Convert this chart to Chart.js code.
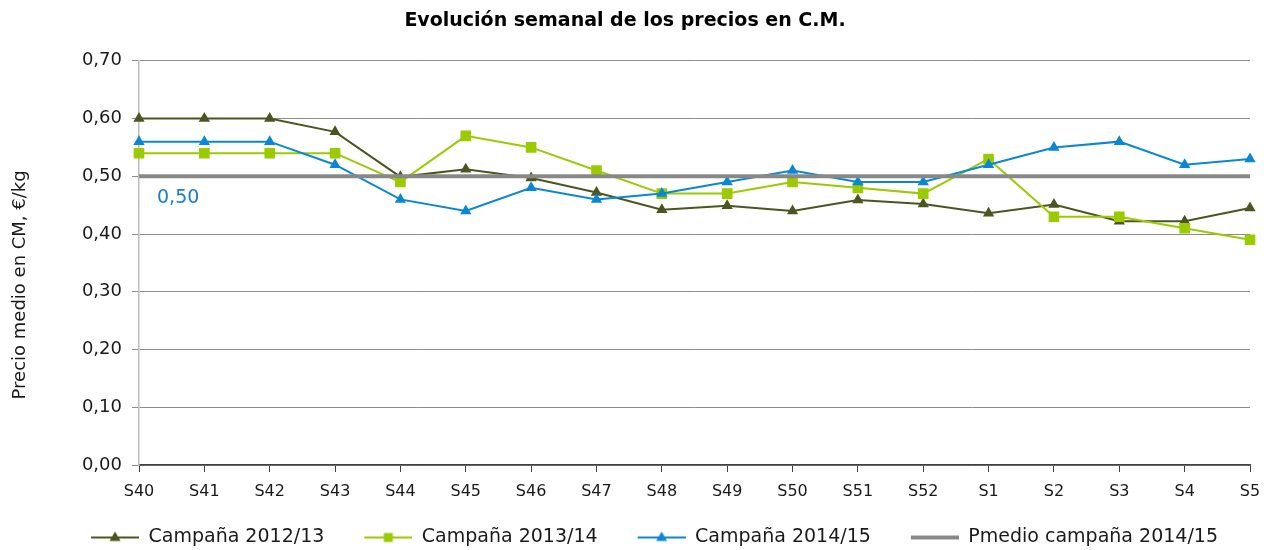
<!DOCTYPE html>
<html>
<head>
<meta charset="utf-8">
<script src="https://cdn.jsdelivr.net/npm/chart.js@4.4.1/dist/chart.umd.min.js"></script>
<style>
html,body{margin:0;padding:0;background:#fff;}
#wrap{width:1264px;height:550px;position:relative;}
</style>
</head>
<body>
<div id="wrap"><canvas id="c" width="1264" height="550"></canvas></div>
<script>
const categories = ['S40','S41','S42','S43','S44','S45','S46','S47','S48','S49','S50','S51','S52','S1','S2','S3','S4','S5'];
const campana1213 = [0.60,0.60,0.60,0.577,0.499,0.512,0.497,0.472,0.442,0.449,0.440,0.459,0.452,0.436,0.451,0.422,0.422,0.445];
const campana1314 = [0.54,0.54,0.54,0.54,0.49,0.57,0.55,0.51,0.47,0.47,0.49,0.48,0.47,0.53,0.43,0.43,0.41,0.39];
const campana1415 = [0.56,0.56,0.56,0.52,0.46,0.44,0.48,0.46,0.47,0.49,0.51,0.49,0.49,0.52,0.55,0.56,0.52,0.53];
const pmedio1415 = [0.50,0.50,0.50,0.50,0.50,0.50,0.50,0.50,0.50,0.50,0.50,0.50,0.50,0.50,0.50,0.50,0.50,0.50];
const seriesNames = ['Campaña 2012/13','Campaña 2013/14','Campaña 2014/15','Pmedio campaña 2014/15'];
const yTicks = [0,0.1,0.2,0.3,0.4,0.5,0.6,0.7];
const yTitle = 'Precio medio en CM, €/kg';
const meanLabel = '0,50';

const FONT = 'DejaVu Sans';
const C_OLIVE = '#4B5520';
const C_GREEN = '#9ACA00';
const C_BLUE = '#0A87D2';
const C_GRAY = '#888888';

const ICON_GAP = 19;
function legendIcon(color, style, lw) {
  const cv = document.createElement('canvas');
  cv.width = 48 + ICON_GAP; cv.height = 16;
  const g = cv.getContext('2d');
  const o = ICON_GAP;
  g.strokeStyle = color; g.lineWidth = lw;
  g.beginPath(); g.moveTo(o, 8); g.lineTo(o + 48, 8); g.stroke();
  g.fillStyle = color;
  if (style === 'triangle') {
    g.beginPath(); g.moveTo(o + 24, 2); g.lineTo(o + 29.5, 11.5); g.lineTo(o + 18.5, 11.5); g.closePath(); g.fill();
  } else if (style === 'rect') {
    g.fillRect(o + 19.5, 3.5, 9, 9);
  }
  return cv;
}

const icons = [
  legendIcon(C_OLIVE, 'triangle', 2),
  legendIcon(C_GREEN, 'rect', 2),
  legendIcon(C_BLUE, 'triangle', 2),
  legendIcon(C_GRAY, null, 4)
];

const textPlugin = {
  id: 'extraText',
  afterLayout(chart) {
    if (chart.legend) { chart.legend.left += 20; chart.legend.right += 20; }
  },
  afterDatasetsDraw(chart) {
    const x = chart.scales.x, y = chart.scales.y;
    const ctx = chart.ctx;
    ctx.save();
    ctx.font = '19px "' + FONT + '"';
    ctx.fillStyle = '#1A7FC0';
    ctx.textAlign = 'left';
    ctx.textBaseline = 'middle';
    ctx.fillText(meanLabel, x.getPixelForValue(0) + 18, y.getPixelForValue(pmedio1415[0]) + 22);
    ctx.restore();
  },
  afterDraw(chart) {
    const ctx = chart.ctx;
    const y = chart.scales.y;
    ctx.save();
    ctx.font = '18px "' + FONT + '"';
    ctx.fillStyle = '#1a1a1a';
    ctx.textAlign = 'center';
    ctx.textBaseline = 'middle';
    ctx.translate(20, (y.top + y.bottom) / 2 + 22);
    ctx.rotate(-Math.PI / 2);
    ctx.fillText(yTitle, 0, 0);
    ctx.restore();
  }
};

new Chart(document.getElementById('c'), {
  type: 'line',
  data: {
    labels: categories,
    datasets: [
      { label: seriesNames[0], data: campana1213, borderColor: C_OLIVE, backgroundColor: C_OLIVE, borderWidth: 2,
        pointStyle: 'triangle', pointRadius: 6.5, pointBorderWidth: 0, pointBackgroundColor: C_OLIVE, order: 3 },
      { label: seriesNames[1], data: campana1314, borderColor: C_GREEN, backgroundColor: C_GREEN, borderWidth: 2,
        pointStyle: 'rect', pointRadius: 7.5, pointBorderWidth: 0, pointBackgroundColor: C_GREEN, order: 2 },
      { label: seriesNames[2], data: campana1415, borderColor: C_BLUE, backgroundColor: C_BLUE, borderWidth: 2,
        pointStyle: 'triangle', pointRadius: 6.5, pointBorderWidth: 0, pointBackgroundColor: C_BLUE, order: 1 },
      { label: seriesNames[3], data: pmedio1415, borderColor: C_GRAY, backgroundColor: C_GRAY, borderWidth: 4,
        pointRadius: 0, order: 0 }
    ]
  },
  options: {
    responsive: false,
    animation: false,
    events: [],
    layout: { padding: { left: 0, right: 14, top: 0, bottom: -7 } },
    plugins: {
      tooltip: { enabled: false },
      title: {
        display: true,
        text: 'Evolución semanal de los precios en C.M.',
        color: '#000',
        font: { family: FONT, size: 19, weight: 'bold' },
        padding: { top: 10, bottom: 28 }
      },
      legend: {
        position: 'bottom',
        labels: {
          color: '#1a1a1a',
          font: { family: FONT, size: 19 },
          usePointStyle: true,
          pointStyleWidth: 48 + ICON_GAP,
          boxHeight: 16,
          padding: 21,
          generateLabels(chart) {
            return chart.data.datasets.map((ds, i) => ({
              text: ds.label,
              pointStyle: icons[i],
              fillStyle: ds.borderColor,
              strokeStyle: ds.borderColor,
              lineWidth: 0,
              hidden: false,
              datasetIndex: i,
              fontColor: '#1a1a1a'
            }));
          }
        }
      }
    },
    scales: {
      x: {
        offset: false,
        grid: { display: true, drawOnChartArea: false, drawTicks: true, tickLength: 7, color: '#404040', lineWidth: 1 },
        border: { display: true, color: '#404040', width: 1.5 },
        ticks: { color: '#1a1a1a', font: { family: FONT, size: 16 }, padding: 10, maxRotation: 0, autoSkip: false },
        afterFit(scale) { scale.height = 42; scale.paddingRight = 0; scale.paddingLeft = 0; }
      },
      y: {
        min: 0, max: 0.7,
        afterBuildTicks(scale) { scale.ticks = yTicks.map(v => ({ value: v })); },
        grid: { color: '#8c8c8c', lineWidth: 1, drawTicks: true, tickLength: 7 },
        border: { display: true, color: '#bdbdbd', width: 1.5 },
        ticks: {
          color: '#1a1a1a', font: { family: FONT, size: 18 }, padding: 10,
          callback: v => v.toFixed(2).replace('.', ',')
        },
        title: { display: false },
        afterFit(scale) { scale.width = 139; }
      }
    }
  },
  plugins: [textPlugin]
});
</script>
</body>
</html>
